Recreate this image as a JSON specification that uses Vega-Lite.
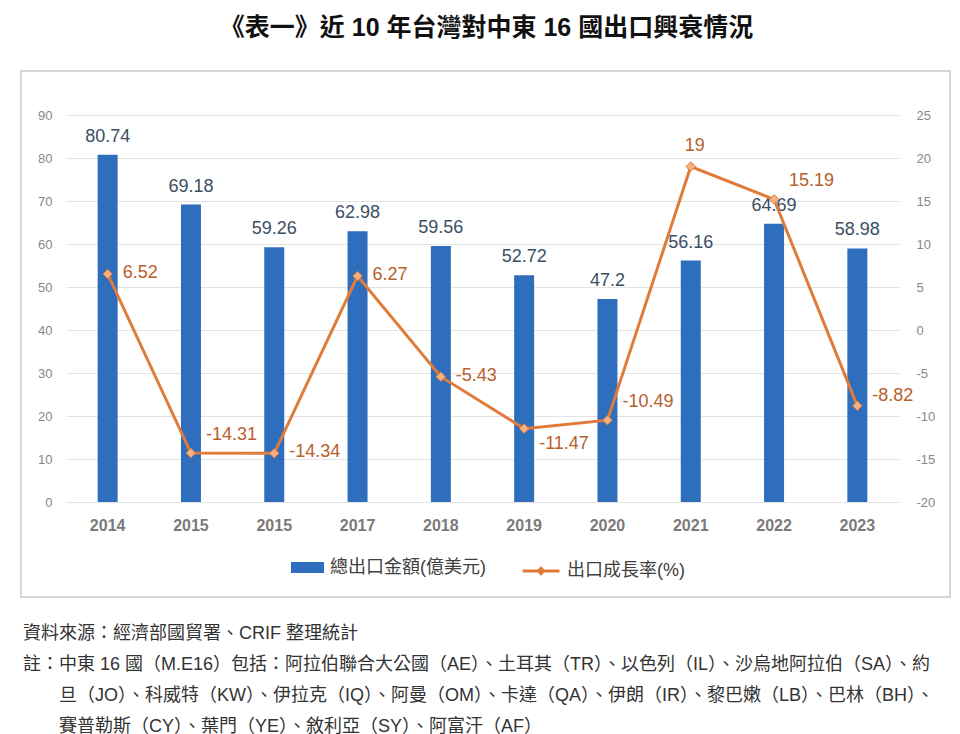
{
  "$schema": "https://vega.github.io/schema/vega-lite/v6.json",
  "padding": {"left": 20, "top": 16, "right": 10, "bottom": 10},
  "background": "white",
  "title": {
    "text": "《表一》近 10 年台灣對中東 16 國出口興衰情況",
    "fontSize": 25,
    "fontWeight": "bold",
    "font": "Liberation Sans, Noto Sans CJK TC",
    "color": "#111111",
    "anchor": "middle",
    "offset": 29,
    "dx": 1
  },
  "config": {
    "font": "Liberation Sans, Noto Sans CJK TC",
    "view": {"stroke": "#c9c9c9", "strokeWidth": 1.5},
    "axis": {"domain": false, "ticks": false},
    "legend": {"padding": 0}
  },
  "vconcat": [
    {
      "width": 929,
      "height": 526,
      "title": {
        "text": [
          "資料來源：經濟部國貿署、CRIF 整理統計",
          "註：中東 16 國（M.E16）包括：阿拉伯聯合大公國（AE）、土耳其（TR）、以色列（IL）、沙烏地阿拉伯（SA）、約",
          "\u200b\u3000\u3000旦（JO）、科威特（KW）、伊拉克（IQ）、阿曼（OM）、卡達（QA）、伊朗（IR）、黎巴嫩（LB）、巴林（BH）、",
          "\u200b\u3000\u3000賽普勒斯（CY）、葉門（YE）、敘利亞（SY）、阿富汗（AF）"
        ],
        "orient": "bottom",
        "anchor": "start",
        "frame": "group",
        "fontSize": 18,
        "fontWeight": "normal",
        "color": "#333333",
        "lineHeight": 31,
        "offset": 28,
        "dx": 2
      },
      "data": {
        "values": [
          {"k": "2014", "value": 80.74, "rate": 6.52},
          {"k": "2015", "value": 69.18, "rate": -14.31},
          {"k": "2015*", "value": 59.26, "rate": -14.34},
          {"k": "2017", "value": 62.98, "rate": 6.27},
          {"k": "2018", "value": 59.56, "rate": -5.43},
          {"k": "2019", "value": 52.72, "rate": -11.47},
          {"k": "2020", "value": 47.2, "rate": -10.49},
          {"k": "2021", "value": 56.16, "rate": 19},
          {"k": "2022", "value": 64.69, "rate": 15.19},
          {"k": "2023", "value": 58.98, "rate": -8.82}
        ]
      },
      "encoding": {
        "x": {
          "field": "k",
          "type": "ordinal",
          "sort": null,
          "scale": {"range": [45, 878], "paddingInner": 0.76, "paddingOuter": 0.38},
          "axis": {
            "title": null,
            "labelAngle": 0,
            "offset": -95,
            "labelPadding": 15,
            "labelFontSize": 16,
            "labelFontWeight": "bold",
            "labelColor": "#7a7a7a",
            "labelExpr": "replace(datum.label, '*', '')",
            "grid": false
          }
        }
      },
      "layer": [
        {
          "encoding": {
            "y": {
              "field": "value",
              "type": "quantitative",
              "scale": {"domain": [0, 90], "range": [431, 44], "nice": false},
              "axis": {
                "title": null,
                "orient": "left",
                "offset": -45,
                "values": [0, 10, 20, 30, 40, 50, 60, 70, 80, 90],
                "labelPadding": 14,
                "labelFontSize": 13,
                "labelColor": "#888888",
                "grid": true,
                "gridColor": "#e3e3e3",
                "gridWidth": 1.2
              }
            }
          },
          "layer": [
            {
              "mark": {"type": "bar"},
              "encoding": {
                "color": {
                  "datum": "總出口金額(億美元)",
                  "scale": {"range": ["#2f6dbd"]},
                  "legend": {
                    "orient": "none",
                    "legendX": 270,
                    "legendY": 480,
                    "title": null,
                    "symbolType": "M-1,-0.34H1V0.34H-1Z",
                    "symbolSize": 1089,
                    "symbolStrokeWidth": 0,
                    "labelFontSize": 18,
                    "labelColor": "#404040",
                    "labelOffset": 6
                  }
                }
              }
            },
            {
              "mark": {"type": "text", "baseline": "bottom", "dy": -9, "fontSize": 18, "color": "#3b4e63"},
              "encoding": {"text": {"field": "value", "type": "nominal"}}
            }
          ]
        },
        {
          "encoding": {
            "y": {
              "field": "rate",
              "type": "quantitative",
              "scale": {"domain": [-20, 25], "range": [431, 44], "nice": false, "zero": false},
              "axis": {
                "title": null,
                "orient": "right",
                "offset": -51,
                "values": [-20, -15, -10, -5, 0, 5, 10, 15, 20, 25],
                "labelPadding": 17,
                "labelFontSize": 13,
                "labelColor": "#888888",
                "grid": false,
                "labelExpr": "'' + datum.value"
              }
            }
          },
          "layer": [
            {
              "mark": {"type": "line", "strokeWidth": 3},
              "encoding": {
                "stroke": {
                  "datum": "出口成長率(%)",
                  "scale": {"range": ["#e07b3a"]},
                  "legend": {
                    "orient": "none",
                    "legendX": 500,
                    "legendY": 480,
                    "title": null,
                    "symbolType": "M-1,0H1M0,-0.14L0.14,0L0,0.14L-0.14,0Z",
                    "symbolSize": 1369,
                    "symbolStrokeWidth": 3,
                    "symbolFillColor": "#f4b183",
                    "labelFontSize": 18,
                    "labelColor": "#404040",
                    "labelOffset": 6
                  }
                }
              }
            },
            {
              "mark": {"type": "point", "shape": "diamond", "filled": true, "size": 90, "fill": "#f4b183", "stroke": "#e07b3a", "strokeWidth": 1, "opacity": 1}
            },
            {
              "transform": [{"filter": {"field": "k", "oneOf": ["2014", "2015*", "2017", "2018"]}}],
              "mark": {"type": "text", "align": "left", "baseline": "middle", "dx": 15, "dy": -1, "fontSize": 18, "color": "#b8602c"},
              "encoding": {"text": {"field": "rate", "type": "nominal"}}
            },
            {
              "transform": [{"filter": {"field": "k", "oneOf": ["2015", "2020", "2022"]}}],
              "mark": {"type": "text", "align": "left", "baseline": "middle", "dx": 15, "dy": -18, "fontSize": 18, "color": "#b8602c"},
              "encoding": {"text": {"field": "rate", "type": "nominal"}}
            },
            {
              "transform": [{"filter": {"field": "k", "oneOf": ["2023"]}}],
              "mark": {"type": "text", "align": "left", "baseline": "middle", "dx": 15, "dy": -10, "fontSize": 18, "color": "#b8602c"},
              "encoding": {"text": {"field": "rate", "type": "nominal"}}
            },
            {
              "transform": [{"filter": {"field": "k", "oneOf": ["2019"]}}],
              "mark": {"type": "text", "align": "left", "baseline": "middle", "dx": 15, "dy": 15, "fontSize": 18, "color": "#b8602c"},
              "encoding": {"text": {"field": "rate", "type": "nominal"}}
            },
            {
              "transform": [{"filter": {"field": "k", "oneOf": ["2021"]}}],
              "mark": {"type": "text", "align": "center", "baseline": "middle", "dx": 4, "dy": -21, "fontSize": 18, "color": "#b8602c"},
              "encoding": {"text": {"field": "rate", "type": "nominal"}}
            }
          ]
        }
      ],
      "resolve": {"scale": {"y": "independent"}}
    }
  ]
}
